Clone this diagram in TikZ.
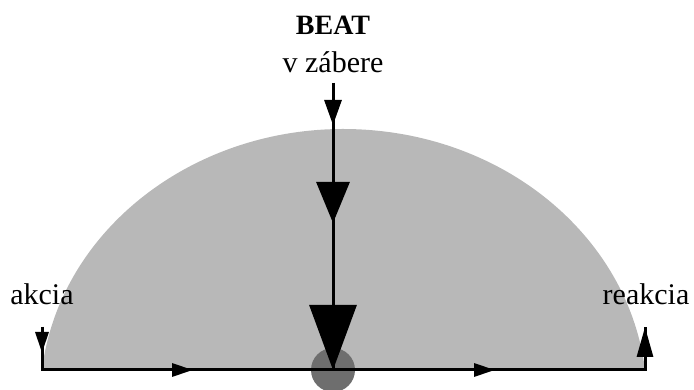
\documentclass[tikz,border=0pt]{standalone}
\usepackage{fontspec}
\setmainfont{Liberation Serif}
\usetikzlibrary{positioning, arrows.meta}
\definecolor{fieldgray}{HTML}{B8B8B8}
\definecolor{beatgray}{HTML}{6E6E6E}

\begin{document}
\begin{tikzpicture}[
    x=1pt, y=1pt,
    word/.style={inner sep=0pt, anchor=base, font=\fontsize{30}{36}\selectfont},
    title/.style={inner sep=0pt, font=\fontsize{28}{34}\selectfont\bfseries},
    flow/.style={line width=3pt},
    tipsmall/.style={flow, -{Triangle[length=21pt, width=13pt]}},
    tipmid/.style={flow, -{Triangle[length=41pt, width=33pt]}},
    tipbig/.style={flow, -{Triangle[length=65pt, width=47pt]}}
]
\useasboundingbox (0,0) rectangle (694,390);

% points on the lines
\coordinate (origin) at (333,20);
\coordinate (left) at (42,20);
\coordinate (right) at (645,20);
\coordinate (akciatop) at (42,63);
\coordinate (akciatip) at (42,37);
\coordinate (reakciatip) at (645,63);
\coordinate (beattop) at (333,307);
\coordinate (beattip1) at (333,265);
\coordinate (beattip2) at (333,167);
\coordinate (flowtip1) at (193,20);
\coordinate (flowtip2) at (495,20);

% field and beat point
\fill[fieldgray] (left) arc[start angle=173.64, end angle=6.36, x radius=303.4, y radius=271] -- cycle;
\fill[beatgray] (origin) circle[radius=22];

% labels
\node[word] (zabere) at (333,317) {v zábere};
\node[title, above=17pt of zabere] (beat) {BEAT};
\node[word] (akcia) at (42,85) {akcia};
\node[word] (reakcia) at (646,85) {reakcia};

% horizontal flow
\draw[flow] (akciatop) -- (left) -- (right) -- (reakciatip);
\draw[tipsmall] (akciatop) -- (akciatip);
\draw[tipsmall] (left) -- (flowtip1);
\draw[tipsmall] (flowtip1) -- (flowtip2);
\draw[flow, -{Triangle[length=30pt, width=16pt]}] (right) -- (reakciatip);

% beat arrow
\draw[flow] (beattop) -- (origin);
\draw[flow, -{Triangle[length=25pt, width=17pt]}] (beattop) -- (beattip1);
\draw[tipmid] (beattip1) -- (beattip2);
\draw[tipbig] (beattip2) -- (origin);
\end{tikzpicture}
\end{document}
